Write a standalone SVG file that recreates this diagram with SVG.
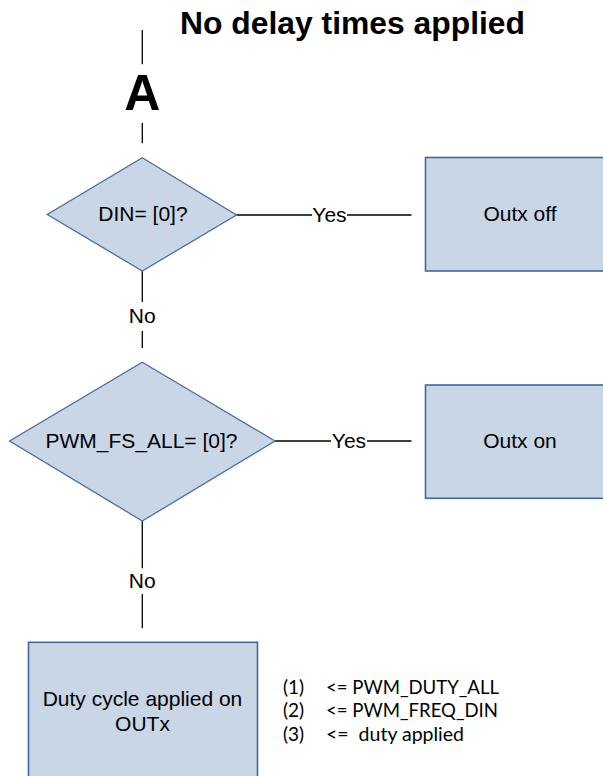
<svg xmlns="http://www.w3.org/2000/svg" width="603" height="776" viewBox="0 0 603 776">
  <style>
    .shape { fill: #c8d6e6; stroke: #4a6f9f; stroke-width: 1.3; }
    .box { fill: #c8d6e6; stroke: #41689a; stroke-width: 1.6; }
    .wire { stroke: #000; stroke-width: 1.3; fill: none; }
    .lbl { font-family: "Liberation Sans", Arial, sans-serif; font-size: 21px; fill: #000; text-anchor: middle; }
    .title { font-family: "Liberation Sans", Arial, sans-serif; font-weight: bold; fill: #000; }
    .note { font-family: Lato, "Open Sans", sans-serif; font-size: 19px; fill: #000; white-space: pre; }
  </style>
  <rect width="603" height="776" fill="#fff"/>

  <text class="title" x="180" y="33.5" font-size="31.5" textLength="345" lengthAdjust="spacingAndGlyphs">No delay times applied</text>

  <!-- connectors -->
  <g id="connectors">
    <line class="wire" x1="142.3" y1="30" x2="142.3" y2="64.3"/>
    <line class="wire" x1="142.3" y1="123" x2="142.3" y2="143.3"/>
    <!-- DIN decision: Yes branch -->
    <line class="wire" x1="236.5" y1="215" x2="312" y2="215"/>
    <line class="wire" x1="347" y1="215" x2="411.5" y2="215"/>
    <text class="lbl" x="329.5" y="221.5">Yes</text>
    <!-- DIN decision: No branch -->
    <line class="wire" x1="142.3" y1="271" x2="142.3" y2="302"/>
    <text class="lbl" x="142.3" y="323.3">No</text>
    <line class="wire" x1="142.3" y1="331" x2="142.3" y2="348"/>
    <!-- PWM_FS_ALL decision: Yes branch -->
    <line class="wire" x1="275" y1="441" x2="331" y2="441"/>
    <line class="wire" x1="367" y1="441" x2="411.5" y2="441"/>
    <text class="lbl" x="349" y="447.7">Yes</text>
    <!-- PWM_FS_ALL decision: No branch -->
    <line class="wire" x1="142.3" y1="521" x2="142.3" y2="568.3"/>
    <text class="lbl" x="142.3" y="588">No</text>
    <line class="wire" x1="142.3" y1="594" x2="142.3" y2="628.3"/>
  </g>

  <g id="connector-A">
    <text class="title" x="142.3" y="110" font-size="50" text-anchor="middle">A</text>
  </g>

  <g id="din-check">
    <polygon class="shape" points="142.3,157.7 236.5,215 142.3,271 47.3,214.5"/>
    <text class="lbl" x="143" y="220.7">DIN= [0]?</text>
  </g>

  <g id="outx-off">
    <rect class="box" x="425.5" y="157.5" width="200" height="113.5"/>
    <text class="lbl" x="520" y="220.7">Outx off</text>
  </g>

  <g id="pwm-check">
    <polygon class="shape" points="142.3,362.3 275,441 142.3,521 9.6,441"/>
    <text class="lbl" x="141.5" y="447.7">PWM_FS_ALL= [0]?</text>
  </g>

  <g id="outx-on">
    <rect class="box" x="425.5" y="385" width="200" height="113.3"/>
    <text class="lbl" x="520" y="447.7">Outx on</text>
  </g>

  <g id="duty-applied">
    <rect class="box" x="28.5" y="642.3" width="229" height="150"/>
    <text class="lbl" x="142.5" y="706">Duty cycle applied on</text>
    <text class="lbl" x="142.5" y="730.7">OUTx</text>
  </g>

  <g id="notes">
    <text class="note" x="283" y="694">(1)</text>
    <text class="note" x="326" y="694" textLength="173" lengthAdjust="spacingAndGlyphs">&lt;= PWM_DUTY_ALL</text>
    <text class="note" x="283" y="717.3">(2)</text>
    <text class="note" x="326" y="717.3" textLength="172" lengthAdjust="spacingAndGlyphs">&lt;= PWM_FREQ_DIN</text>
    <text class="note" x="283" y="740.7">(3)</text>
    <text class="note" x="326" y="740.7" textLength="138" lengthAdjust="spacingAndGlyphs">&lt;=  duty applied</text>
  </g>
</svg>
